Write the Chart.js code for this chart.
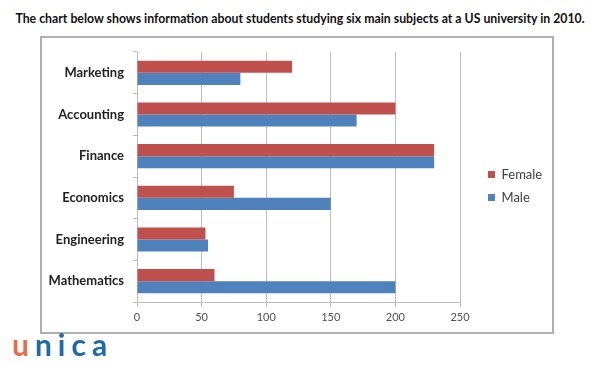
<!DOCTYPE html>
<html>
<head>
<meta charset="utf-8">
<script src="https://cdn.jsdelivr.net/npm/chart.js@4/dist/chart.umd.min.js"></script>
<style>
  body { margin: 0; background: #fff; width: 600px; height: 365px; position: relative; overflow: hidden; }
  #title { position: absolute; left: 0; top: 11px; width: 600px; text-align: center;
           font: bold 12.3px Lato, "Open Sans", sans-serif; color: #111; white-space: nowrap; }
  #frame { position: absolute; left: 40px; top: 36px; width: 510px; height: 294px;
           border: 2px solid #b0b0b0; }
  #wrap { position: absolute; left: 42px; top: 38px; width: 510px; height: 294px; }
  #logo { position: absolute; left: 12px; top: 326px; font: bold 30px Lato, sans-serif;
          letter-spacing: 6px; color: #1f6aab; }
  #logo span { color: #ee6a4a; }
</style>
</head>
<body>
<div id="title">The chart below shows information about students studying six main subjects at a US university in 2010.</div>
<div id="frame"></div>
<div id="wrap"><canvas id="chart"></canvas></div>
<div id="logo"><span>u</span>nica</div>
<script>
// données du graphique
const subjects = ['Marketing', 'Accounting', 'Finance', 'Economics', 'Engineering', 'Mathematics'];
const female = [120, 200, 230, 75, 53, 60];
const male = [80, 170, 230, 150, 55, 200];
const xTicks = [0, 50, 100, 150, 200, 250];

// légende plus large, décalée comme dans l'original
const legendPlace = {
    id: 'legendPlace',
    beforeLayout(chart) {
        const lg = chart.legend;
        if (lg && !lg._wide) {
            const fit = lg.fit;
            lg.fit = function () { fit.call(this); this.width = 92; };
            lg._wide = true;
        }
    },
    afterLayout(chart) {
        chart.legend.left += 18;
        chart.legend.top -= 6;
        chart.legend.bottom -= 6;
    }
};

const chart = new Chart(document.getElementById('chart'), {
    type: 'bar',
    data: {
        labels: subjects,
        datasets: [{
            label: 'Female',
            data: female,
            backgroundColor: '#c0504d',
            barPercentage: 1,
            categoryPercentage: 0.58
        }, {
            label: 'Male',
            data: male,
            backgroundColor: '#4f81bd',
            barPercentage: 1,
            categoryPercentage: 0.58
        }]
    },
    plugins: [legendPlace],
    options: {
        indexAxis: 'y',
        responsive: true,
        maintainAspectRatio: false,
        animation: false,
        layout: { padding: { top: 14, right: 0, bottom: 0, left: 0 } },
        plugins: {
            legend: {
                position: 'right',
                labels: {
                    boxWidth: 7,
                    boxHeight: 7,
                    padding: 10,
                    color: '#404040',
                    font: { family: 'Lato', size: 13 }
                }
            },
            tooltip: { enabled: false }
        },
        scales: {
            x: {
                min: 0,
                max: 250,
                afterBuildTicks: axis => { axis.ticks = xTicks.map(v => ({ value: v })); },
                afterFit: axis => { axis.height = 30; },
                grid: { color: '#bdbdbd', tickLength: 5 },
                border: { color: '#bdbdbd' },
                ticks: { color: '#505050', padding: 4, font: { family: 'Lato', size: 11 } }
            },
            y: {
                afterFit: axis => {
                    axis.width = 95;
                    axis.paddingTop = 0;
                    axis.paddingBottom = 0;
                },
                grid: { drawOnChartArea: false, color: '#bdbdbd', tickLength: 4 },
                border: { color: '#bdbdbd' },
                ticks: { color: '#222', padding: 9, font: { family: 'Lato', size: 13, weight: 'bold' } }
            }
        }
    }
});
</script>
</body>
</html>
